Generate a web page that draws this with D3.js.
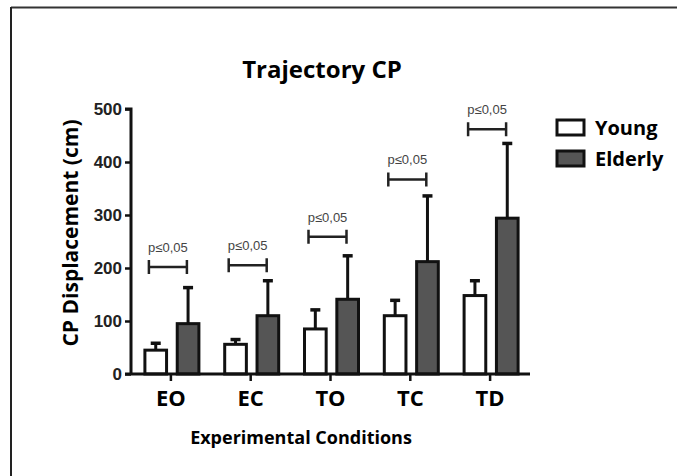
<!DOCTYPE html>
<html>
<head>
<meta charset="utf-8">
<script src="https://cdn.jsdelivr.net/npm/d3@7"></script>
<style>
  html, body { margin: 0; padding: 0; background: #fff; overflow: hidden; }
  svg { display: block; }
  text { font-family: "Open Sans", "Liberation Sans", sans-serif; }
</style>
</head>
<body>
<svg id="chart"></svg>
<script>
// Section for Data
var categories = ["EO", "EC", "TO", "TC", "TD"];
var seriesNames = ["Young", "Elderly"];
var youngMean = [45, 56, 85, 110, 148];
var youngErr = [58, 65, 121, 139, 176];
var elderlyMean = [95, 110, 141, 212, 294];
var elderlyErr = [163, 176, 223, 336, 435];
var bracketLevel = [202, 205, 259, 367, 462];
var sigLabel = "p\u22640,05";
var yTicks = [0, 100, 200, 300, 400, 500];

// Section for dimensions
var svgWidth = window.innerWidth || 677, svgHeight = 476;
var colors = { Young: "#ffffff", Elderly: "#555555" };

var svg = d3.select("#chart")
    .attr("width", svgWidth)
    .attr("height", svgHeight);

// frame lines (top and left)
svg.append("line").attr("x1", 11).attr("x2", svgWidth).attr("y1", 7.5).attr("y2", 7.5)
    .attr("stroke", "#333").attr("stroke-width", 2);
svg.append("line").attr("x1", 11).attr("x2", 11).attr("y1", 7).attr("y2", svgHeight)
    .attr("stroke", "#222").attr("stroke-width", 2);

// scales
var x = d3.scaleBand()
    .domain(categories)
    .range([131, 530]);

var inner = d3.scaleBand()
    .domain(seriesNames)
    .range([-26, 28])
    .paddingInner(0.33);

var y = d3.scaleLinear()
    .domain([0, 500])
    .range([374, 109]);

var data = categories.map(function (c, i) {
    return [
        { cat: c, name: "Young", v: youngMean[i], e: youngErr[i] },
        { cat: c, name: "Elderly", v: elderlyMean[i], e: elderlyErr[i] }
    ];
});

var g = svg.append("g");

// error bars (drawn first, bars cover the lower part)
var groups = g.selectAll(".grp")
    .data(data)
    .enter().append("g")
    .attr("class", "grp")
    .attr("transform", function (d) { return "translate(" + (x(d[0].cat) + x.bandwidth() / 2) + ",0)"; });

groups.selectAll(".err")
    .data(function (d) { return d; })
    .enter().append("line")
    .attr("x1", function (d) { return inner(d.name) + inner.bandwidth() / 2; })
    .attr("x2", function (d) { return inner(d.name) + inner.bandwidth() / 2; })
    .attr("y1", function (d) { return y(d.v); })
    .attr("y2", function (d) { return y(d.e); })
    .attr("stroke", "#111").attr("stroke-width", 3);

groups.selectAll(".cap")
    .data(function (d) { return d; })
    .enter().append("line")
    .attr("x1", function (d) { return inner(d.name) + inner.bandwidth() / 2 - 5; })
    .attr("x2", function (d) { return inner(d.name) + inner.bandwidth() / 2 + 5; })
    .attr("y1", function (d) { return y(d.e); })
    .attr("y2", function (d) { return y(d.e); })
    .attr("stroke", "#111").attr("stroke-width", 3.5);

groups.selectAll("rect")
    .data(function (d) { return d; })
    .enter().append("rect")
    .attr("x", function (d) { return inner(d.name); })
    .attr("width", inner.bandwidth())
    .attr("y", function (d) { return y(d.v); })
    .attr("height", function (d) { return y(0) - y(d.v); })
    .attr("fill", function (d) { return colors[d.name]; })
    .attr("stroke", "#111")
    .attr("stroke-width", 3);

// significance brackets
var br = g.selectAll(".br")
    .data(categories)
    .enter().append("g")
    .attr("transform", function (d, i) { return "translate(" + (x(d) + x.bandwidth() / 2) + "," + y(bracketLevel[i]) + ")"; });

br.append("path")
    .attr("d", "M-22,-7V7M-22,0H16M16,-7V7")
    .attr("fill", "none")
    .attr("stroke", "#222")
    .attr("stroke-width", 2.5);

br.append("text")
    .attr("x", -3)
    .attr("y", -15)
    .attr("text-anchor", "middle")
    .attr("font-size", 13)
    .attr("fill", "#444")
    .style("font-family", "'Liberation Sans', Arial, sans-serif")
    .text(sigLabel);

// y axis
var yAxis = svg.append("g")
    .attr("transform", "translate(131,0)")
    .call(d3.axisLeft(y).tickValues(yTicks).tickSize(6).tickPadding(3));
yAxis.select(".domain").attr("stroke", "#111").attr("stroke-width", 3).attr("d", "M-6," + y(500) + "H0V" + y(0));
yAxis.selectAll(".tick line").attr("stroke", "#111").attr("stroke-width", 2.5);
yAxis.selectAll("text")
    .attr("font-size", 17).attr("font-weight", "bold").attr("fill", "#222")
    .style("font-family", "'Liberation Sans', Arial, sans-serif");

// x axis
var xAxis = svg.append("g")
    .attr("transform", "translate(0," + y(0) + ")")
    .call(d3.axisBottom(x).tickSize(7).tickPadding(9));
xAxis.select(".domain").attr("stroke", "#111").attr("stroke-width", 3).attr("d", "M125,0H530");
xAxis.selectAll(".tick line").attr("stroke", "#111").attr("stroke-width", 2.5);
xAxis.selectAll("text")
    .attr("font-size", 22).attr("font-weight", "bold").attr("fill", "#000")
    .style("font-family", "'Open Sans', sans-serif");

// title & axis labels
svg.append("text")
    .attr("x", 322).attr("y", 78)
    .attr("text-anchor", "middle")
    .attr("font-size", 24).attr("font-weight", "bold")
    .text("Trajectory CP");

svg.append("text")
    .attr("transform", "translate(78,233) rotate(-90)")
    .attr("text-anchor", "middle")
    .attr("font-size", 21).attr("font-weight", "bold")
    .text("CP Displacement (cm)");

svg.append("text")
    .attr("x", 301).attr("y", 444)
    .attr("text-anchor", "middle")
    .attr("font-size", 18).attr("font-weight", "bold")
    .text("Experimental Conditions");

// legend
var legend = svg.append("g")
    .selectAll("g")
    .data(seriesNames)
    .enter().append("g")
    .attr("transform", function (d, i) { return "translate(557," + (120 + i * 31) + ")"; });

legend.append("rect")
    .attr("width", 27).attr("height", 15)
    .attr("fill", function (d) { return colors[d]; })
    .attr("stroke", "#111").attr("stroke-width", 3);

legend.append("text")
    .attr("x", 38).attr("y", 15)
    .attr("font-size", 20).attr("font-weight", "bold")
    .text(function (d) { return d; });
</script>
</body>
</html>
